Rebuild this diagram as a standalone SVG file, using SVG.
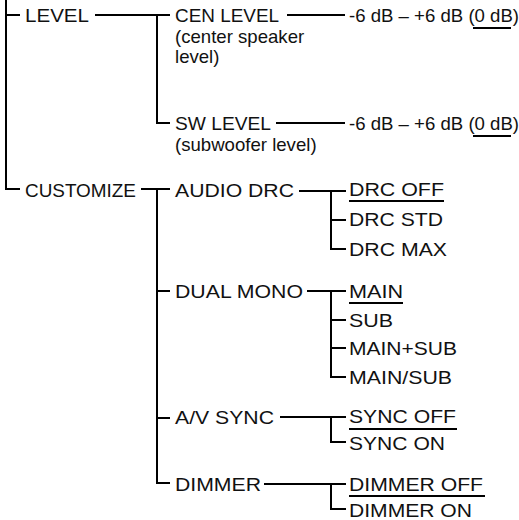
<svg xmlns="http://www.w3.org/2000/svg" width="519" height="520" viewBox="0 0 519 520">
<style>
text{font-family:"Liberation Sans",Arial,sans-serif;font-size:18.6px;fill:#111}
text.s{lengthAdjust:spacingAndGlyphs}
.c path,.u{stroke:#000;stroke-width:2;fill:none}
</style>
<rect width="519" height="520" fill="#fff"/>
<g class="c" id="connectors">
<path d="M6 0V189H20"/>
<path d="M6 15H20"/>
<path d="M95 15H170M157 15V123H170"/>
<path d="M141 189H170M157 189V483H170M157 291H170M157 418H170"/>
<path d="M287 15H345"/>
<path d="M276 123H345"/>
<path d="M299 191H346M331 191V249H346M331 220H346"/>
<path d="M307 291H346M331 291V377H346M331 320H346M331 348H346"/>
<path d="M280 417H346M331 417V442H346"/>
<path d="M264 484H346M331 484V509H346"/>
</g>
<g id="n-level"><text x="25" y="22" textLength="64" lengthAdjust="spacingAndGlyphs">LEVEL</text></g>
<g id="n-customize"><text x="25" y="197" textLength="111" lengthAdjust="spacingAndGlyphs">CUSTOMIZE</text></g>
<g id="n-cen"><text x="175" y="22" textLength="104" lengthAdjust="spacingAndGlyphs">CEN LEVEL</text><text x="175" y="43">(center speaker</text><text x="175" y="63">level)</text></g>
<g id="n-sw"><text x="175" y="130" textLength="96" lengthAdjust="spacingAndGlyphs">SW LEVEL</text><text x="175" y="151">(subwoofer level)</text></g>
<g id="n-cen-val"><text x="349" y="22">-6 dB – +6 dB (0 dB)</text><line class="u" x1="473" y1="28" x2="511" y2="28"/></g>
<g id="n-sw-val"><text x="349" y="130">-6 dB – +6 dB (0 dB)</text><line class="u" x1="473" y1="136" x2="511" y2="136"/></g>
<g id="n-audiodrc"><text x="175" y="197" textLength="119" lengthAdjust="spacingAndGlyphs">AUDIO DRC</text></g>
<g id="n-dualmono"><text x="175" y="298" textLength="128" lengthAdjust="spacingAndGlyphs">DUAL MONO</text></g>
<g id="n-avsync"><text x="175" y="424" textLength="99" lengthAdjust="spacingAndGlyphs">A/V SYNC</text></g>
<g id="n-dimmer"><text x="175" y="491" textLength="86" lengthAdjust="spacingAndGlyphs">DIMMER</text></g>
<g id="n-drcoff"><text x="349" y="196" textLength="95" lengthAdjust="spacingAndGlyphs">DRC OFF</text><line class="u" x1="349" y1="201" x2="444" y2="201"/></g>
<g id="n-drcstd"><text x="349" y="226" textLength="94" lengthAdjust="spacingAndGlyphs">DRC STD</text></g>
<g id="n-drcmax"><text x="349" y="256" textLength="98" lengthAdjust="spacingAndGlyphs">DRC MAX</text></g>
<g id="n-main"><text x="349" y="298" textLength="54" lengthAdjust="spacingAndGlyphs">MAIN</text><line class="u" x1="349" y1="303" x2="403" y2="303"/></g>
<g id="n-sub"><text x="349" y="327" textLength="44" lengthAdjust="spacingAndGlyphs">SUB</text></g>
<g id="n-mainsub"><text x="349" y="355" textLength="108" lengthAdjust="spacingAndGlyphs">MAIN+SUB</text></g>
<g id="n-mainslashsub"><text x="349" y="384" textLength="103" lengthAdjust="spacingAndGlyphs">MAIN/SUB</text></g>
<g id="n-syncoff"><text x="349" y="423" textLength="107" lengthAdjust="spacingAndGlyphs">SYNC OFF</text><line class="u" x1="349" y1="429" x2="457" y2="429"/></g>
<g id="n-syncon"><text x="349" y="450" textLength="96" lengthAdjust="spacingAndGlyphs">SYNC ON</text></g>
<g id="n-dimmeroff"><text x="349" y="491" textLength="134" lengthAdjust="spacingAndGlyphs">DIMMER OFF</text><line class="u" x1="349" y1="496" x2="485" y2="496"/></g>
<g id="n-dimmeron"><text x="349" y="517" textLength="123" lengthAdjust="spacingAndGlyphs">DIMMER ON</text></g>
</svg>
